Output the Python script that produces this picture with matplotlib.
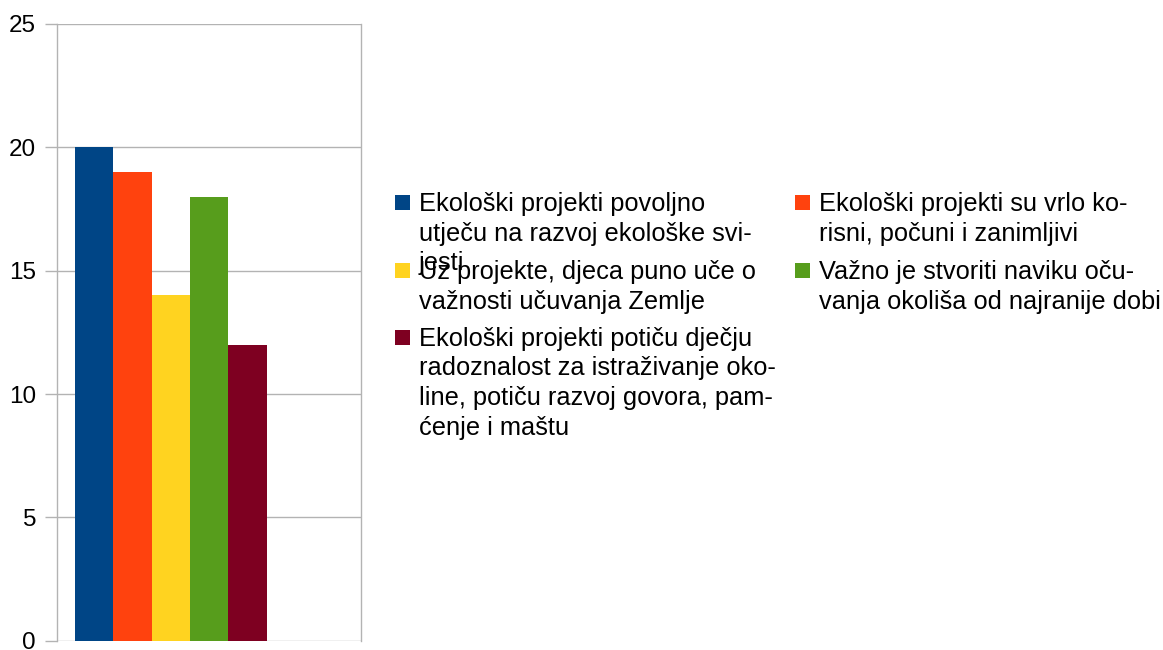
import matplotlib
matplotlib.use("Agg")
import matplotlib.pyplot as plt
from matplotlib.patches import Rectangle

plt.rcParams['font.family'] = ['Liberation Sans', 'DejaVu Sans']

# Data
series_labels = [
    "Ekološki projekti povoljno\nutječu na razvoj ekološke svi-\njesti",
    "Ekološki projekti su vrlo ko-\nrisni, počuni i zanimljivi",
    "Uz projekte, djeca puno uče o\nvažnosti učuvanja Zemlje",
    "Važno je stvoriti naviku oču-\nvanja okoliša od najranije dobi",
    "Ekološki projekti potiču dječju\nradoznalost za istraživanje oko-\nline, potiču razvoj govora, pam-\nćenje i maštu",
]
values = [20, 19, 14, 18, 12]
colors = ["#004586", "#ff420e", "#ffd320", "#579d1c", "#7e0021"]
yticks = [0, 5, 10, 15, 20, 25]

W, H = 1163, 650
fig = plt.figure(figsize=(W / 100, H / 100), dpi=100)

ax_left, ax_right, ax_top, ax_bot = 57, 361, 24, 640.7
ax = fig.add_axes([ax_left / W, 1 - ax_bot / H, (ax_right - ax_left) / W, (ax_bot - ax_top) / H])

grid_c = "#b3b3b3"
ax.bar(range(len(values)), values, width=1.0, color=colors, zorder=3)
ax.set_xlim(-0.97, 6.96)
ax.set_ylim(0, 25)
ax.set_yticks(yticks)
ax.set_yticklabels([str(t) for t in yticks], fontsize=17.5)
ax.set_xticks([])
ax.yaxis.grid(True, color=grid_c, linewidth=1, zorder=0)
ax.tick_params(axis='y', length=8.6, width=1, color=grid_c, pad=6.5)
for s in ['left', 'right']:
    ax.spines[s].set_color(grid_c)
    ax.spines[s].set_linewidth(1)
for s in ['top', 'bottom']:
    ax.spines[s].set_visible(False)

# Legend (manual, reproducing LibreOffice layout)
col_marker_x = [395, 795]
col_text_x = [419, 819]
row_baselines = [211, 279, 346]
line_step = 29.5
fs = 18.3
for i, (lab, c) in enumerate(zip(series_labels, colors)):
    row, col = divmod(i, 2)
    base = row_baselines[row]
    mx = col_marker_x[col]
    fig.patches.append(Rectangle((mx / W, 1 - (base - 1) / H), 15 / W, 15 / H,
                                 transform=fig.transFigure, facecolor=c,
                                 edgecolor='none'))
    for j, line in enumerate(lab.split("\n")):
        y = base + j * line_step
        fig.text(col_text_x[col] / W, 1 - y / H, line, fontsize=fs,
                 ha='left', va='baseline', color='black')

fig.savefig("out.png", dpi=100)
